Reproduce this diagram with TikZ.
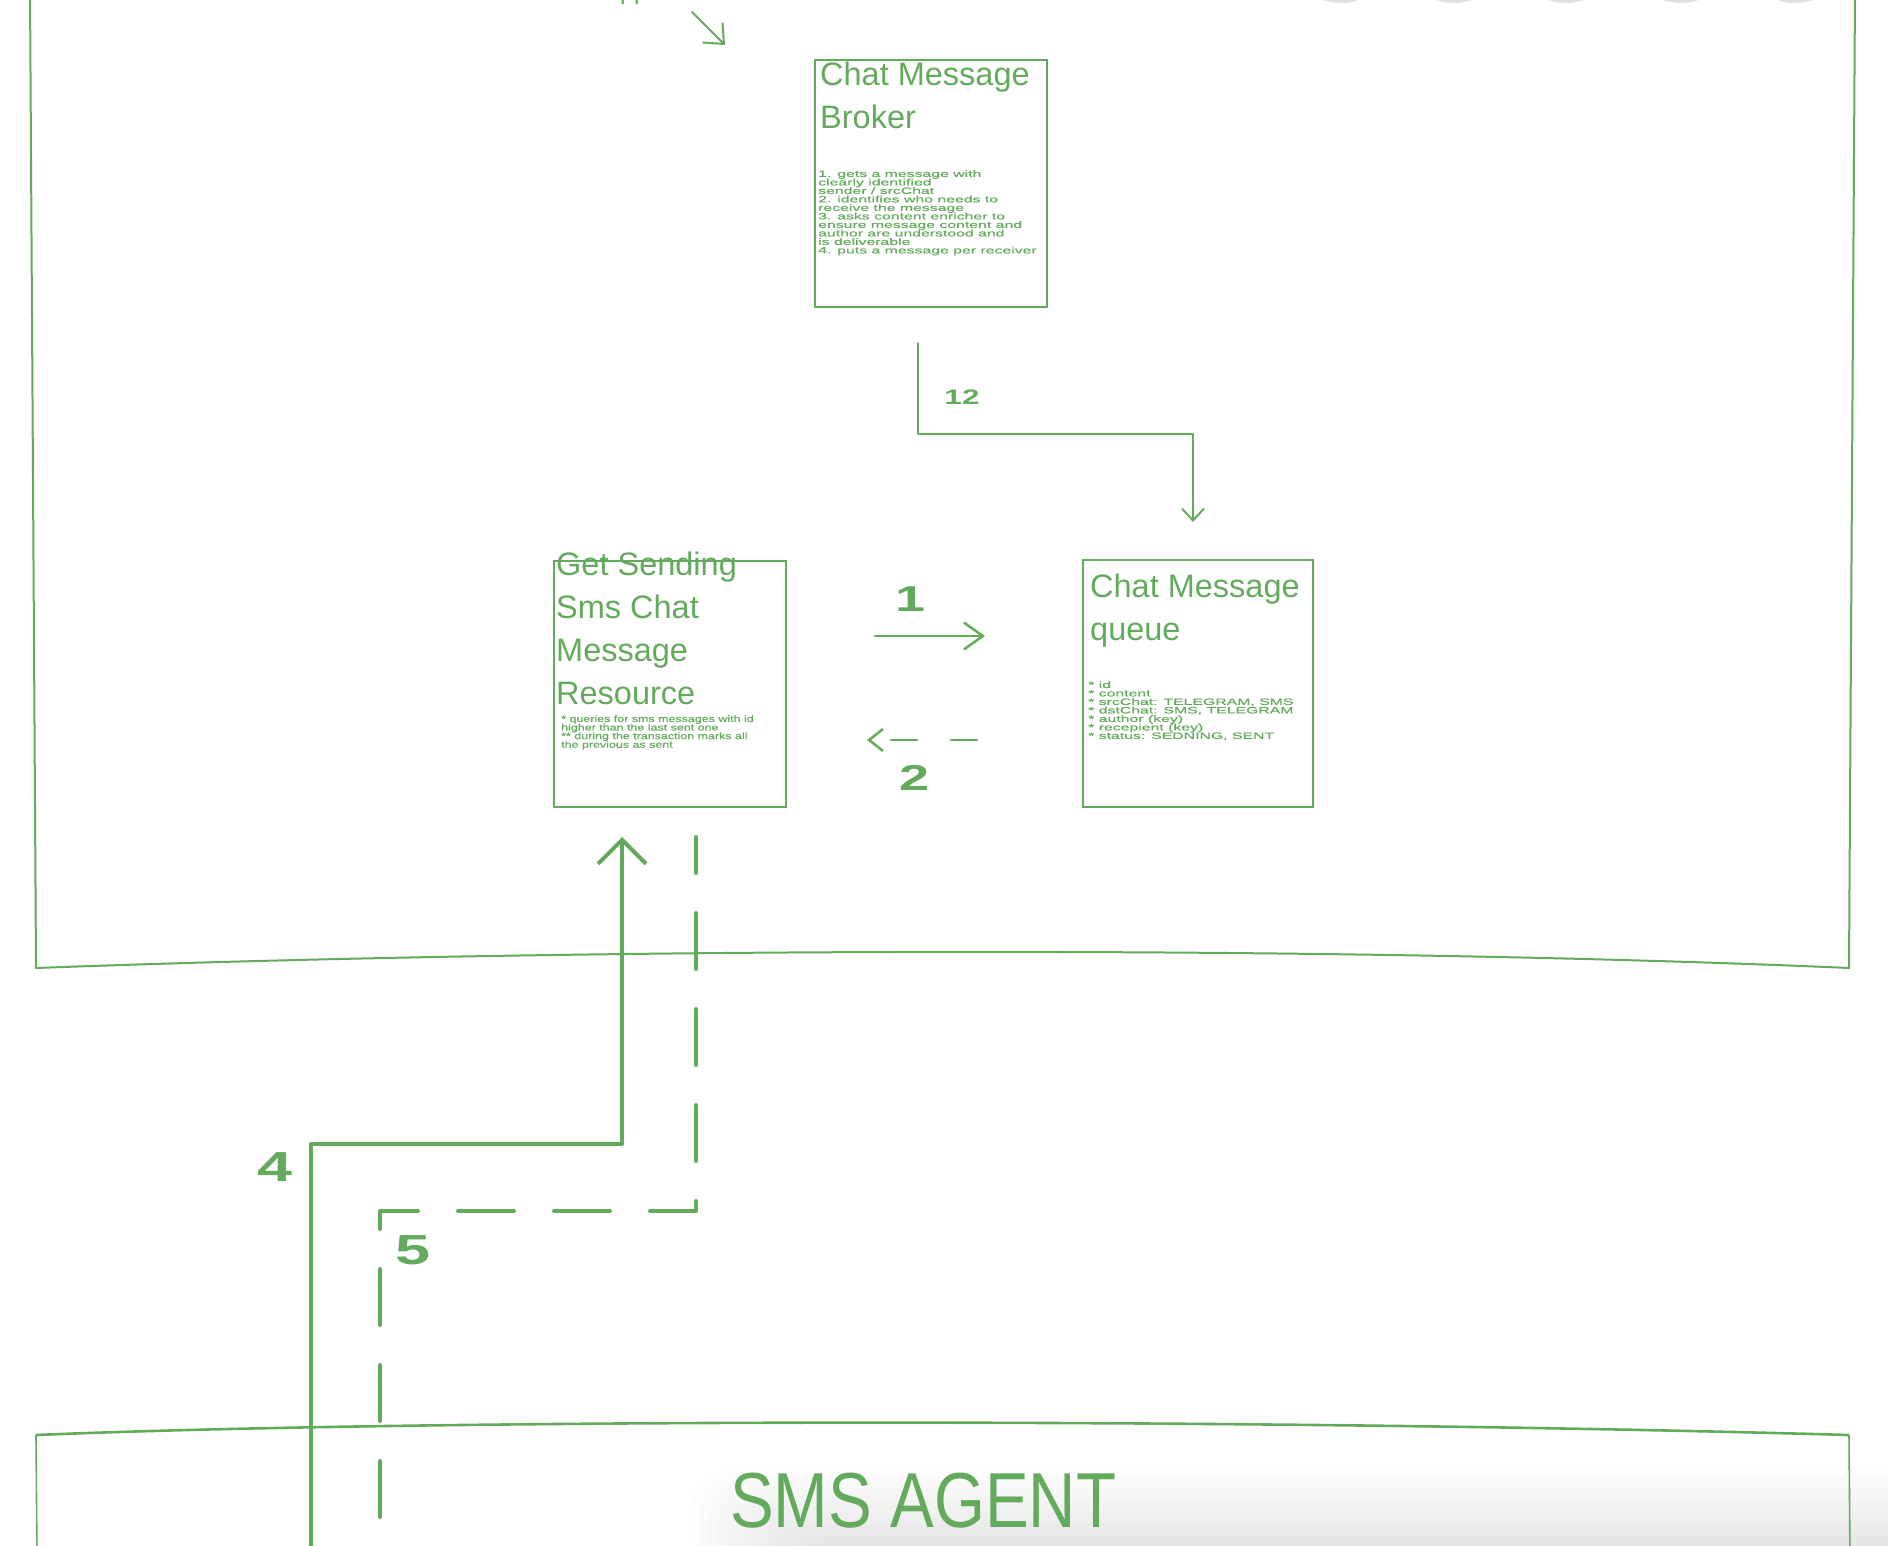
\documentclass[tikz,border=0pt]{standalone}
\usepackage{fontspec}
\setmainfont{Liberation Sans}
\newfontfamily\bodyA[FakeStretch=1.7,FakeBold=0.6]{Liberation Sans}
\newfontfamily\bodyB[FakeStretch=1.34,FakeBold=0.6]{Liberation Sans}
\newfontfamily\numfont[FakeStretch=1.5]{Liberation Sans}
\newfontfamily\narrowfont[FakeStretch=0.84]{Liberation Sans}
\usetikzlibrary{arrows.meta}
\definecolor{sk}{RGB}{100,170,92}
\newcommand\bodyAfont{\bodyA\fontsize{9.3}{8.5}\selectfont\lineskiplimit=-100pt\relax}
\newcommand\bodyBfont{\bodyB\fontsize{9.3}{8.6}\selectfont\lineskiplimit=-100pt\relax}
\newcommand\titlefont{\fontsize{32.5}{43}\selectfont}
\newcommand\numA{\numfont\bfseries\fontsize{36}{36}\selectfont}
\newcommand\numB{\numfont\bfseries\fontsize{42}{42}\selectfont}
\newcommand\numC{\numfont\bfseries\fontsize{21}{21}\selectfont}
\newcommand\agentfont{\narrowfont\fontsize{78}{78}\selectfont}
\tikzset{
  boxnode/.style={draw=sk, line width=2.4pt, anchor=north west, inner sep=0pt, outer sep=0pt},
  titletext/.style={text=sk, anchor=north west, inner sep=0pt, align=left, font=\titlefont},
  bodytextA/.style={text=sk, anchor=north west, inner sep=0pt, align=left, font=\bodyAfont},
  bodytextB/.style={text=sk, anchor=north west, inner sep=0pt, align=left, font=\bodyBfont},
  numlabel/.style={text=sk, inner sep=0pt},
  conn/.style={draw=sk, line width=2pt, line cap=round, line join=round},
  boldconn/.style={draw=sk, line width=4pt, line cap=round, line join=round},
  frame/.style={draw=sk, line width=2pt, line join=round},
}
\begin{document}
\begin{tikzpicture}[x=1pt,y=-1pt]
\useasboundingbox (0,0) rectangle (1888,1546);
% shadows of circles above the top edge
\foreach \cx in {1341,1454,1566,1681,1795}
  \fill[black!12] (\cx,-17) ellipse [x radius=34, y radius=20];
% soft shadow in the SMS agent area
\foreach \i in {0,...,11}
  \fill[black, opacity=0.009, rounded corners=40pt] (690+9*\i,1470+6*\i) rectangle (1940,1620);
% large container
\draw[frame] (30,-10) -- (36,968) .. controls (600,947) and (1350,946) .. (1849,968) -- (1855,-10);
% SMS agent container
\draw[sk, line width=1.6pt] (37,1560) -- (36,1435);
\draw[sk, line width=1.6pt] (1849,1435) -- (1850,1560);
\draw[sk, line width=2.6pt] (36,1435) .. controls (420,1419) and (1250,1418) .. (1849,1435);
\node[text=sk, anchor=base west, inner sep=0pt, font=\agentfont] (agent) at (730,1527) {SMS AGENT};
% text cut off by the top edge
\node[text=sk, anchor=base west, inner sep=0pt, font=\fontsize{25}{25}\selectfont] (topfrag) at (620,0) {pp};
% boxes
\node[boxnode, minimum width=232pt, minimum height=247pt] (broker) at (815,60) {};
\node[boxnode, minimum width=230pt, minimum height=247pt] (queue) at (1083,560) {};
\node[boxnode, minimum width=232pt, minimum height=246pt] (resource) at (554,561) {};
% box texts
\node[titletext] (brokertitle) at (820,62) {Chat Message\\Broker};
\node[bodytextA] (brokerbody) at (818,170) {1. gets a message with\\clearly identified\\sender / srcChat\\2. identifies who needs to\\receive the message\\3. asks content enricher to\\ensure message content and\\author are understood and\\is deliverable\\4. puts a message per receiver};
\node[titletext] (queuetitle) at (1090,574) {Chat Message\\queue};
\node[bodytextA] (queuebody) at (1088,681) {* id\\* content\\* srcChat: TELEGRAM, SMS\\* dstChat: SMS, TELEGRAM\\* author (key)\\* recepient (key)\\* status: SEDNING, SENT};
\node[titletext] (restitle) at (556,552) {Get Sending\\Sms Chat\\Message\\Resource};
\node[bodytextB] (resbody) at (561,715) {* queries for sms messages with id\\higher than the last sent one\\** during the transaction marks all\\the previous as sent};
% connector end points
\coordinate (topA) at (692,12);
\coordinate (topB) at (725,45);
\coordinate (c12a) at (918,343);
\coordinate (c12b) at (1193,522);
\coordinate (c1a) at (875,636);
\coordinate (c1b) at (985,636);
\coordinate (c2a) at (977,740);
\coordinate (c2b) at (867,740);
\coordinate (c4a) at (311,1570);
\coordinate (c4b) at (622,837);
\coordinate (c5a) at (696,837);
\coordinate (c5b) at (380,1570);
% connectors
\draw[conn, -{Straight Barb[length=16pt,width=28pt]}] (topA) -- (topB);
\draw[conn, -{Straight Barb[length=12pt,width=22pt]}] (c12a) |- (1193,434) -- (c12b);
\draw[conn, line width=2.5pt, -{Straight Barb[length=19pt,width=27pt]}] (c1a) -- (c1b);
\draw[conn, line width=2.5pt, dash pattern=on 26pt off 34pt, -{Straight Barb[length=14pt,width=22pt]}] (c2a) -- (c2b);
\draw[boldconn, -{Straight Barb[length=24pt,width=48pt]}] (c4a) |- (622,1144) -- (c4b);
\draw[boldconn, dash pattern=on 56pt off 40pt, dash phase=20pt] (c5a) |- (380,1211) -- (c5b);
% labels
\node[numlabel, font=\numC] (l12) at (962,397) {12};
\node[numlabel, font=\numA] (l1) at (911,599) {1};
\node[numlabel, font=\numA] (l2) at (915,778) {2};
\node[numlabel, font=\numB] (l4) at (275,1167) {4};
\node[numlabel, font=\numB] (l5) at (413,1250) {5};
\end{tikzpicture}
\end{document}
